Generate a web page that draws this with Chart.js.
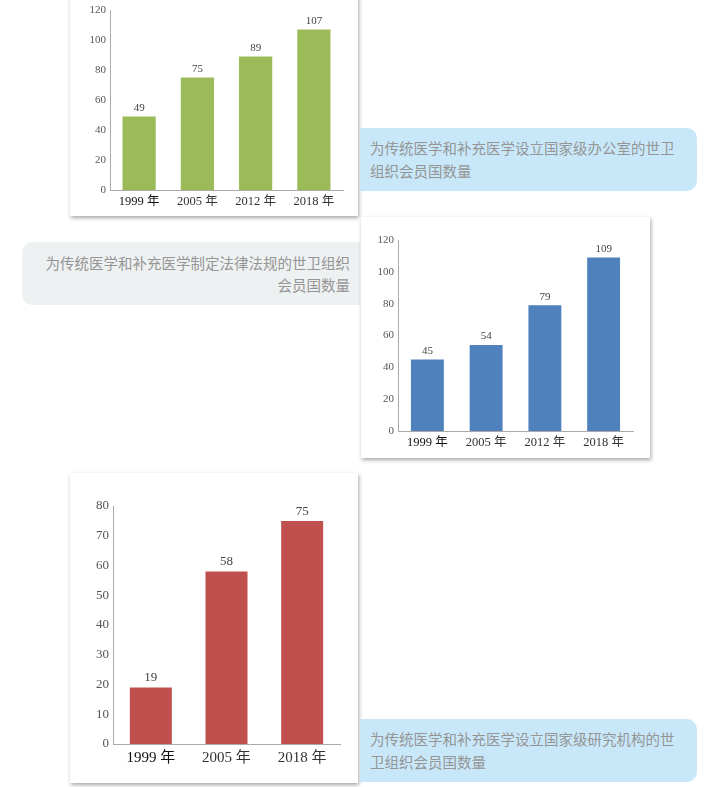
<!DOCTYPE html>
<html>
<head>
<meta charset="utf-8">
<script src="https://cdn.jsdelivr.net/npm/chart.js@4.4.1/dist/chart.umd.min.js"></script>
<style>
	body { margin: 0; background: #fff; width: 710px; height: 787px; overflow: hidden; position: relative; }
	.card { position: absolute; background: #fff; box-shadow: 1px 2px 4px rgba(0,0,0,0.35); }
	.note { position: absolute; box-sizing: border-box; font-family: "Noto Sans CJK SC", sans-serif; font-size: 14.5px; line-height: 23px; color: #959595; }
	.note-blue { background: #c8e8fa; border-radius: 0 10px 10px 0; padding: 8px 18px 0 10px; }
	.note-grey { background: #eef1f2; border-radius: 10px 0 0 10px; padding: 10px 10px 0 18px; line-height: 22px; text-align: right; }
</style>
</head>
<body>

<div class="card" style="left:70px; top:-10px; width:288px; height:226px;"><canvas id="officeChart"></canvas></div>
<div class="note note-blue" style="left:360px; top:128px; width:337px; height:63px;">为传统医学和补充医学设立国家级办公室的世卫组织会员国数量</div>

<div class="note note-grey" style="left:22px; top:242px; width:338px; height:63px;">为传统医学和补充医学制定法律法规的世卫组织会员国数量</div>
<div class="card" style="left:361px; top:217px; width:289px; height:241px;"><canvas id="lawChart"></canvas></div>

<div class="card" style="left:70px; top:473px; width:288px; height:310px;"><canvas id="instituteChart"></canvas></div>
<div class="note note-blue" style="left:360px; top:719px; width:337px; height:63px;">为传统医学和补充医学设立国家级研究机构的世卫组织会员国数量</div>

<script>
// Categories
let years4 = ["1999 年", "2005 年", "2012 年", "2018 年"]
let years3 = ["1999 年", "2005 年", "2018 年"]

// Member states with a national office
let officeCounts = [49, 75, 89, 107]
// Member states with laws or regulations
let lawCounts = [45, 54, 79, 109]
// Member states with a national research institute
let instituteCounts = [19, 58, 75]

// Axis ranges
let officeAxis = {max: 120, step: 20}
let lawAxis = {max: 120, step: 20}
let instituteAxis = {max: 80, step: 10}

let serif = "'Liberation Serif', 'Noto Sans CJK SC', serif"

// Draw the value above each bar
let valueLabels = {
	id: "valueLabels",
	afterDatasetsDraw(chart) {
		let ctx = chart.ctx
		let size = chart.options.plugins.valueLabels.size
		let meta = chart.getDatasetMeta(0)
		let values = chart.data.datasets[0].data
		ctx.save()
		ctx.font = `${size}px ${serif}`
		ctx.fillStyle = "#444"
		ctx.textAlign = "center"
		ctx.textBaseline = "bottom"
		meta.data.forEach(function (bar, i) {
			ctx.fillText(values[i], bar.x, bar.y - 3)
		})
		ctx.restore()
	}
}

function makeChart(id, labels, values, axis, look) {
	let ctx = document.getElementById(id).getContext("2d")
	return new Chart(ctx, {
		type: "bar",
		data: {
			labels: labels,
			datasets: [{
				data: values,
				backgroundColor: look.color,
				barPercentage: look.bar,
				categoryPercentage: 1,
			}],
		},
		plugins: [valueLabels],
		options: {
			responsive: true,
			maintainAspectRatio: false,
			animation: false,
			layout: {padding: look.padding},
			plugins: {
				legend: {display: false},
				tooltip: {enabled: false},
				valueLabels: {size: look.valueSize},
			},
			scales: {
				x: {
					grid: {display: false, drawTicks: false, tickLength: 0},
					border: {display: true, color: "#aaa", width: 1},
					afterFit: function (scale) { scale.height = look.xHeight },
					ticks: {
						padding: look.xPad,
						color: labels.map((l, i) => i == 0 ? "#111" : "#333"),
						font: {size: look.xSize, family: serif},
					},
				},
				y: {
					min: 0,
					max: axis.max,
					grid: {display: false, drawTicks: false, tickLength: 0},
					border: {display: true, color: "#aaa", width: 1},
					afterFit: function (scale) { scale.width = look.yWidth },
					ticks: {
						stepSize: axis.step,
						padding: 4,
						color: "#555",
						font: {size: look.ySize, family: serif},
					},
				},
			},
		},
	})
}

makeChart("officeChart", years4, officeCounts, officeAxis, {
	color: "#9bbb59", bar: 0.57, valueSize: 11, xSize: 12.5, ySize: 11, xPad: 4,
	yWidth: 40, xHeight: 26, padding: {top: 20, right: 15, bottom: 0, left: 0},
})

makeChart("lawChart", years4, lawCounts, lawAxis, {
	color: "#4f81bd", bar: 0.56, valueSize: 11, xSize: 12.5, ySize: 11, xPad: 4,
	yWidth: 37, xHeight: 27, padding: {top: 23, right: 17, bottom: 0, left: 0},
})

makeChart("instituteChart", years3, instituteCounts, instituteAxis, {
	color: "#c0504d", bar: 0.555, valueSize: 13, xSize: 15, ySize: 13, xPad: 5,
	yWidth: 43, xHeight: 39, padding: {top: 33, right: 18, bottom: 0, left: 0},
})
</script>
</body>
</html>
